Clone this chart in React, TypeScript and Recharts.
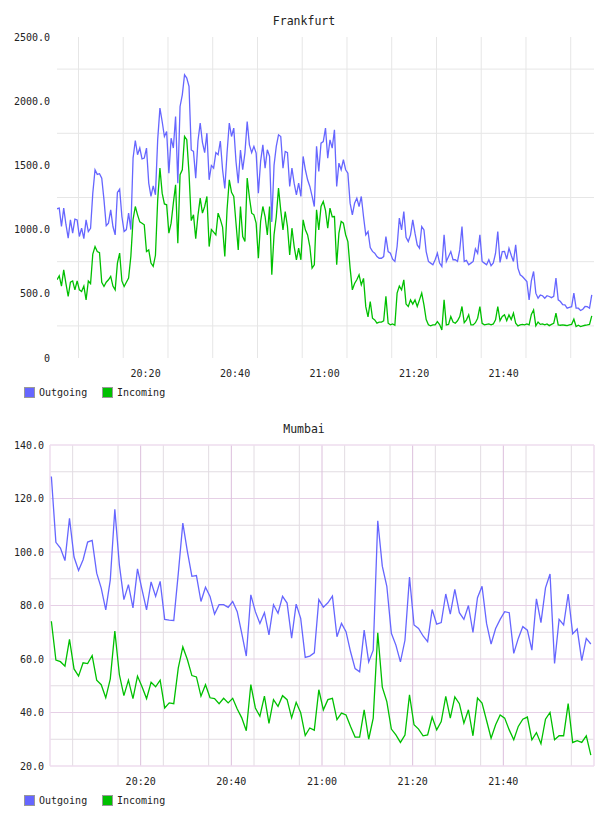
import React from "react";
import { LineChart, Line, XAxis, YAxis, CartesianGrid } from "recharts";

// ---- Frankfurt: 30-second samples starting 20:00:12 ----
const FRA_START = 0.2; // minutes after 20:00
const FRA_STEP = 0.5;

const FRA_OUTGOING = [
  1162, 1167, 1024, 1167, 1040, 933, 1076, 972, 1081, 1075,
  946, 1011, 930, 1076, 985, 1010, 1284, 1466, 1430, 1435,
  1401, 1232, 1030, 1050, 1154, 1024, 959, 1290, 1315, 1102,
  985, 1000, 1128, 1000, 1557, 1694, 1583, 1635, 1550, 1557,
  1635, 1362, 1258, 1341, 1271, 1700, 1946, 1842, 1725, 1764,
  1440, 1712, 1635, 1881, 1362, 1959, 2050, 2206, 2180, 2115,
  1620, 1609, 1401, 1690, 1829, 1680, 1600, 1751, 1388, 1500,
  1479, 1600, 1583, 1690, 1466, 1320, 1596, 1830, 1725, 1790,
  1530, 1362, 1620, 1466, 1600, 1842, 1660, 1600, 1648, 1596,
  1284, 1531, 1660, 1479, 1622, 1570, 1060, 1500, 1648, 1738,
  1725, 1479, 1609, 1600, 1336, 1479, 1360, 1271, 1362, 1258,
  1570, 1466, 1388, 1336, 1260, 1180, 1648, 1453, 1673, 1686,
  1790, 1557, 1699, 1635, 1777, 1336, 1518, 1466, 1544, 1466,
  1440, 1206, 1115, 1206, 1245, 1180, 1258, 1100, 959, 985,
  860, 830, 816, 790, 777, 777, 790, 946, 829, 816,
  770, 752, 868, 1089, 998, 1141, 940, 907, 959, 1076,
  972, 881, 855, 1024, 998, 829, 752, 739, 726, 765,
  816, 739, 713, 959, 752, 790, 829, 765, 765, 752,
  842, 1024, 752, 760, 726, 739, 752, 850, 816, 959,
  752, 739, 726, 765, 719, 740, 816, 985, 745, 829,
  830, 770, 855, 800, 752, 881, 700, 648, 635, 615,
  596, 453, 600, 674, 505, 466, 490, 485, 466, 485,
  479, 470, 480, 622, 453, 440, 415, 414, 388, 395,
  400, 505, 388, 388, 370, 380, 401, 400, 388, 492,
];

const FRA_INCOMING = [
  609, 640, 560, 687, 580, 479, 590, 600, 531, 600,
  531, 518, 560, 453, 600, 580, 810, 868, 829, 820,
  590, 557, 590, 609, 635, 560, 531, 739, 817, 600,
  557, 590, 622, 790, 1080, 1180, 1115, 1060, 1050, 1037,
  829, 842, 739, 713, 800, 1230, 1479, 1284, 1200, 1193,
  972, 1050, 1206, 1349, 894, 1427, 1466, 1725, 1700, 1440,
  1070, 1115, 930, 1110, 1245, 1128, 1180, 1258, 868, 1000,
  980, 959, 1128, 1080, 1020, 790, 1154, 1388, 1290, 1258,
  1050, 842, 1180, 946, 907, 1401, 1250, 1128, 1115, 1050,
  777, 1063, 1180, 1102, 959, 1180, 648, 959, 1100, 1323,
  1150, 998, 1141, 1024, 803, 1011, 868, 765, 855, 765,
  1076, 998, 959, 868, 700, 726, 1154, 998, 1180, 1219,
  1150, 1011, 1167, 1100, 1102, 726, 972, 1063, 1050, 960,
  907, 700, 531, 580, 609, 648, 570, 620, 400, 320,
  440, 310, 297, 271, 279, 280, 290, 480, 271, 258,
  265, 255, 505, 560, 531, 609, 420, 401, 453, 420,
  453, 401, 453, 505, 414, 300, 258, 250, 258, 258,
  284, 260, 219, 453, 258, 262, 323, 280, 271, 290,
  323, 401, 275, 297, 336, 258, 258, 275, 310, 401,
  270, 258, 262, 265, 258, 265, 297, 401, 290, 323,
  336, 290, 336, 300, 349, 271, 250, 258, 262, 258,
  265, 258, 340, 375, 250, 280, 262, 265, 258, 265,
  252, 262, 270, 349, 258, 255, 258, 255, 252, 258,
  262, 302, 245, 255, 245, 250, 255, 258, 262, 328,
];

// ---- Mumbai: 1-minute samples starting 20:00:18 ----
const MUM_START = 0.3;
const MUM_STEP = 1;

const MUM_OUTGOING = [
  128.2, 103.6, 101.5, 96.8, 112.6, 98.1, 93.1, 97.1, 103.7, 104.3,
  92.1, 86.5, 78.4, 89.6, 116.0, 95.2, 82.2, 87.8, 79.1, 93.7,
  85.9, 78.4, 88.8, 83.4, 89.0, 74.8, 74.5, 74.4, 92.0, 110.8,
  100.2, 90.9, 91.2, 81.5, 86.8, 83.4, 76.8, 80.3, 80.3, 79.3,
  81.5, 77.7, 69.6, 61.1, 84.0, 77.7, 73.3, 77.3, 69.0, 80.3,
  77.1, 83.4, 80.9, 67.8, 80.5, 75.2, 60.6, 61.1, 62.3, 82.2,
  79.4, 81.0, 83.5, 68.3, 73.3, 70.2, 62.7, 56.4, 55.2, 70.8,
  58.9, 63.3, 111.7, 94.7, 87.2, 69.6, 65.2, 58.9, 67.0, 90.6,
  72.7, 71.4, 68.6, 66.5, 78.5, 73.0, 73.6, 84.3, 76.8, 86.0,
  77.3, 74.8, 80.0, 69.9, 82.9, 87.2, 73.3, 65.6, 71.4, 74.8,
  77.7, 77.3, 62.1, 67.7, 72.1, 70.8, 63.3, 82.5, 73.6, 86.6,
  91.8, 58.3, 74.8, 72.7, 84.3, 69.4, 71.2, 59.4, 67.7, 65.6,
];

const MUM_INCOMING = [
  74.1, 59.6, 59.0, 57.3, 67.3, 56.3, 53.6, 58.6, 58.3, 61.3,
  52.1, 50.4, 45.5, 52.6, 70.4, 54.2, 46.3, 52.1, 45.2, 53.6,
  49.6, 45.2, 51.3, 49.6, 52.1, 41.7, 43.6, 43.3, 56.7, 64.5,
  59.8, 53.8, 53.3, 46.1, 50.4, 45.5, 45.2, 43.3, 45.3, 43.6,
  45.3, 41.3, 38.0, 33.2, 50.4, 41.7, 38.6, 46.1, 35.9, 44.8,
  42.3, 46.3, 44.8, 38.0, 43.8, 39.9, 31.4, 34.2, 33.4, 48.5,
  41.0, 44.8, 45.3, 37.3, 39.8, 39.1, 34.8, 30.8, 30.8, 41.0,
  30.0, 37.9, 69.8, 49.5, 44.1, 33.8, 31.6, 28.8, 31.6, 46.6,
  35.4, 33.8, 31.3, 31.6, 38.3, 33.5, 36.6, 46.0, 37.9, 45.8,
  43.3, 36.0, 41.0, 31.3, 45.4, 43.5, 37.0, 30.4, 35.4, 39.1,
  37.9, 33.5, 29.8, 34.8, 37.5, 38.3, 29.8, 32.5, 28.3, 37.5,
  40.0, 29.8, 31.3, 31.3, 43.3, 28.8, 29.5, 28.8, 31.3, 24.1,
];

// ---- axes & grid ----
const CLOCK_TICKS = [20, 40, 60, 80, 100];
const FIVE_MINUTE_MARKS = [5, 10, 15, 20, 25, 30, 35, 40, 45, 50, 55, 60, 65, 70, 75, 80, 85, 90, 95, 100, 105, 110, 115];
const TWENTY_MINUTE_MARKS = [20, 40, 60, 80, 100];
const FIVE_ONLY_MARKS = FIVE_MINUTE_MARKS.filter((m) => m % 20 !== 0);

const FRA_Y_TICKS = [0, 500, 1000, 1500, 2000, 2500];
const FRA_Y_GRID = [250, 750, 1250, 1750, 2250];

const MUM_Y_TICKS = [20, 40, 60, 80, 100, 120, 140];
const MUM_Y_MINOR = [30, 50, 70, 90, 110, 130];
const MUM_Y_MAJOR = [40, 60, 80, 100, 120];

const SERIES = [
  { key: "out", name: "Outgoing", color: "#6666ff" },
  { key: "in", name: "Incoming", color: "#00c000" },
];

const MONO = "'DejaVu Sans Mono', 'Liberation Mono', monospace";
const TICK_STYLE = { fill: "#222", fontSize: 10, fontFamily: MONO };

const buildRows = (start: number, step: number, out: number[], inc: number[]) =>
  out.map((v, i) => ({ t: start + i * step, out: v, in: inc[i] }));

const frankfurtRows = buildRows(FRA_START, FRA_STEP, FRA_OUTGOING, FRA_INCOMING);
const mumbaiRows = buildRows(MUM_START, MUM_STEP, MUM_OUTGOING, MUM_INCOMING);

const fmtClock = (m: number) => {
  const total = 20 * 60 + Math.round(m);
  const h = Math.floor(total / 60);
  const mm = total % 60;
  return `${h}:${String(mm).padStart(2, "0")}`;
};

const fmtFrankfurt = (v: number) => (v === 0 ? "0" : v.toFixed(1));
const fmtMumbai = (v: number) => v.toFixed(1);

function Legend({ y }: { y: number }) {
  return (
    <g>
      {SERIES.map((s, i) => {
        const x = 24 + i * 78;
        return (
          <g key={s.key}>
            <rect x={x + 0.5} y={y + 0.5} width={10} height={10} fill={s.color} stroke="#999" strokeWidth={1} />
            <text x={x + 15} y={y + 9} fontSize={10} fontFamily={MONO} fill="#222">
              {s.name}
            </text>
          </g>
        );
      })}
    </g>
  );
}

export default function App() {
  return (
    <div style={{ position: "absolute", left: 0, top: 0, width: 608, height: 816, background: "#fff" }}>
      <div style={{ position: "absolute", left: 0, top: 0 }}>
        <LineChart width={608} height={380} data={frankfurtRows} margin={{ top: 37, right: 14, bottom: 0, left: 0 }}>
          <CartesianGrid stroke="#e6e6e6" horizontalValues={FRA_Y_GRID} verticalValues={FIVE_MINUTE_MARKS} />
          <XAxis
            dataKey="t"
            type="number"
            domain={[0.2, 120.2]}
            allowDataOverflow
            ticks={CLOCK_TICKS}
            tickFormatter={fmtClock}
            axisLine={false}
            tickLine={false}
            tickSize={0}
            tickMargin={12}
            height={22}
            tick={TICK_STYLE}
          />
          <YAxis
            type="number"
            domain={[0, 2500]}
            ticks={FRA_Y_TICKS}
            tickFormatter={fmtFrankfurt}
            axisLine={false}
            tickLine={false}
            tickSize={0}
            tickMargin={7}
            width={57}
            tick={TICK_STYLE}
          />
          {SERIES.map((s) => (
            <Line key={s.key} dataKey={s.key} stroke={s.color} strokeWidth={1.3} dot={false} type="linear" isAnimationActive={false} />
          ))}
        </LineChart>
      </div>

      <div style={{ position: "absolute", left: 0, top: 408 }}>
        <LineChart width={608} height={380} data={mumbaiRows} margin={{ top: 37, right: 14, bottom: 0, left: 0 }}>
          <CartesianGrid stroke="#e2dce2" horizontalValues={MUM_Y_MINOR} verticalValues={FIVE_ONLY_MARKS} />
          <CartesianGrid stroke="#e6d0e6" horizontalValues={MUM_Y_MAJOR} verticalValues={[]} vertical={false} />
          <CartesianGrid stroke="#dcbfdc" horizontal={false} verticalValues={TWENTY_MINUTE_MARKS} />
          <CartesianGrid stroke="#eedcee" strokeWidth={1.5} horizontalValues={[20, 140]} verticalValues={[0, 120]} />
          <XAxis
            dataKey="t"
            type="number"
            domain={[0, 120]}
            allowDataOverflow
            ticks={CLOCK_TICKS}
            tickFormatter={fmtClock}
            axisLine={false}
            tickLine={false}
            tickSize={0}
            tickMargin={12}
            height={22}
            tick={TICK_STYLE}
          />
          <YAxis
            type="number"
            domain={[20, 140]}
            ticks={MUM_Y_TICKS}
            tickFormatter={fmtMumbai}
            axisLine={false}
            tickLine={false}
            tickSize={0}
            tickMargin={6}
            width={50}
            tick={TICK_STYLE}
          />
          {SERIES.map((s) => (
            <Line key={s.key} dataKey={s.key} stroke={s.color} strokeWidth={1.3} dot={false} type="linear" isAnimationActive={false} />
          ))}
        </LineChart>
      </div>

      <svg width={608} height={816} style={{ position: "absolute", left: 0, top: 0, pointerEvents: "none" }}>
        <text x={304} y={25} textAnchor="middle" fontSize={11.5} fontFamily={MONO} fill="#222">
          Frankfurt
        </text>
        <Legend y={387} />
        <text x={304} y={433} textAnchor="middle" fontSize={11.5} fontFamily={MONO} fill="#222">
          Mumbai
        </text>
        <Legend y={795} />
      </svg>
    </div>
  );
}
